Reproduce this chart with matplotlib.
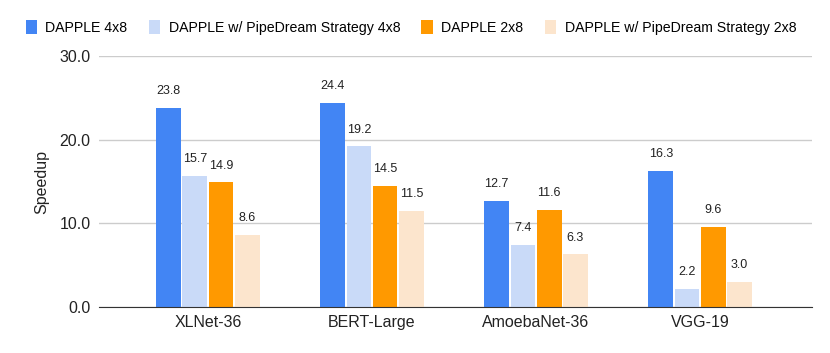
import numpy as np
import matplotlib
matplotlib.use('Agg')
import matplotlib.pyplot as plt

plt.rcParams['font.family'] = ['Liberation Sans', 'DejaVu Sans']

# Data
models = ['XLNet-36', 'BERT-Large', 'AmoebaNet-36', 'VGG-19']
series_names = ['DAPPLE 4x8', 'DAPPLE w/ PipeDream Strategy 4x8',
                'DAPPLE 2x8', 'DAPPLE w/ PipeDream Strategy 2x8']
dapple_4x8 = [23.8, 24.4, 12.7, 16.3]
pipedream_4x8 = [15.7, 19.2, 7.4, 2.2]
dapple_2x8 = [14.9, 14.5, 11.6, 9.6]
pipedream_2x8 = [8.6, 11.5, 6.3, 3.0]
colors = ['#4285F4', '#C9DAF8', '#FF9900', '#FCE5CD']

fig = plt.figure(figsize=(8.3, 3.53), dpi=100)
ax = fig.add_axes([0.119, 0.130, 0.859, 0.711])

x = np.arange(len(models))
w = 0.16
all_series = [dapple_4x8, pipedream_4x8, dapple_2x8, pipedream_2x8]
for i, vals in enumerate(all_series):
    pos = x + (i - 1.5) * w
    ax.bar(pos, vals, width=w - 0.01, color=colors[i], label=series_names[i], zorder=2)
    for p, v in zip(pos, vals):
        ax.text(p, v + 1.3, '%.1f' % v, ha='center', va='bottom', fontsize=9, color='#222222')

ax.set_xlim(-0.665, 3.68)
ax.set_ylim(0, 30)
ax.set_yticks([0, 10, 20, 30])
ax.set_yticklabels(['0.0', '10.0', '20.0', '30.0'], fontsize=11.5, color='#222222')
ax.set_xticks(x)
ax.set_xticklabels(models, fontsize=11.5, color='#222222')
ax.tick_params(length=0, pad=6)
ax.set_ylabel('Speedup', fontsize=11.5, color='#222222', labelpad=7)
ax.grid(axis='y', color='#CCCCCC', linewidth=1, zorder=0)
for s in ['top', 'right', 'left']:
    ax.spines[s].set_visible(False)
ax.spines['bottom'].set_color('#333333')
ax.spines['bottom'].set_zorder(3)

fig.legend(loc='center', bbox_to_anchor=(0.495, 0.923), ncol=4, frameon=False,
           fontsize=10.2, handlelength=0.8, handleheight=1.2, columnspacing=1.5,
           handletextpad=0.6)

plt.savefig('out.png', dpi=100)
